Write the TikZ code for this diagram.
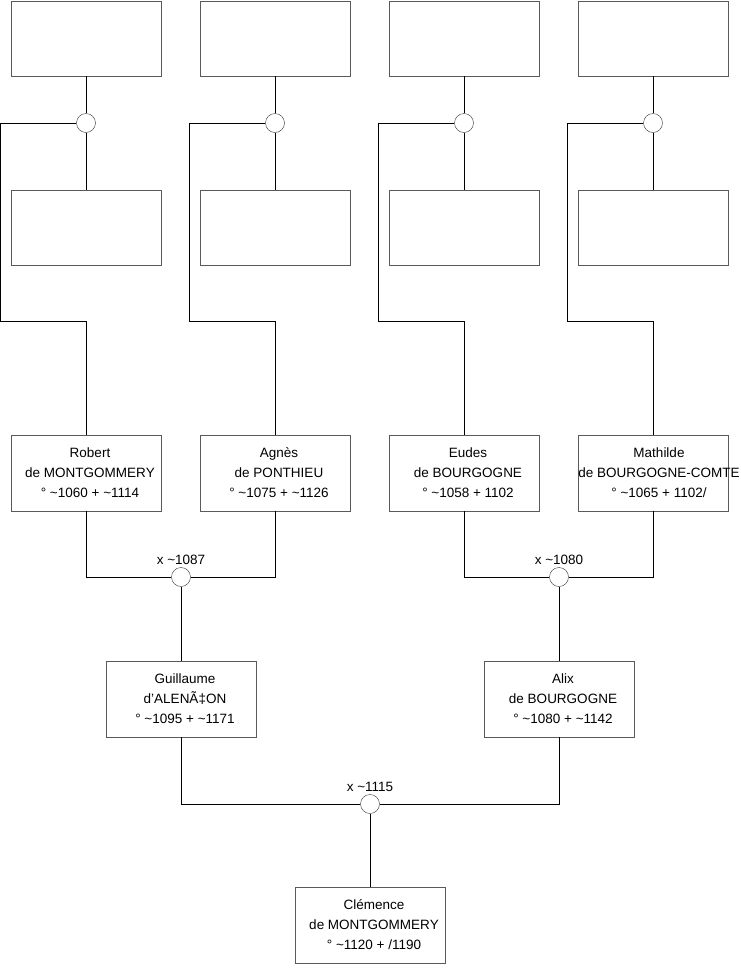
\documentclass[tikz,border=0pt]{standalone}
\usepackage{fontspec}
\setmainfont{Liberation Sans}
\usetikzlibrary{positioning}
\definecolor{boxgray}{HTML}{5A5A5A}
\tikzset{
  person/.style={draw=boxgray,fill=white,minimum width=150pt,minimum height=75.5pt,inner sep=0pt,align=center,font=\fontsize{13.5}{20}\selectfont},
  union/.style={circle,draw=black!80,fill=white,minimum size=19pt,inner sep=0pt},
  link/.style={line width=.8pt},
  datelabel/.style={font=\fontsize{13.5}{15}\selectfont,inner sep=1pt},
}

\begin{document}
\begin{tikzpicture}[x=1pt,y=-1pt]
    \useasboundingbox (0,0) rectangle (740,975);
    % top generation (unknown parents)
    \node[person] (fa1) at (86,38.5) {};
    \node[person] (fa2) at (275,38.5) {};
    \node[person] (fa3) at (464,38.5) {};
    \node[person] (fa4) at (653,38.5) {};
    \node[union] (u1) at (86,123) {};
    \node[union] (u2) at (275,123) {};
    \node[union] (u3) at (464,123) {};
    \node[union] (u4) at (653,123) {};
    \node[person] (mo1) at (86,227.5) {};
    \node[person] (mo2) at (275,227.5) {};
    \node[person] (mo3) at (464,227.5) {};
    \node[person] (mo4) at (653,227.5) {};
    % grand-parents
    \node[person] (rob) at (86,473) {\hspace*{8pt}Robert\\\hspace*{8pt}de MONTGOMMERY\\\hspace*{8pt}° \textasciitilde1060 + \textasciitilde1114};
    \node[person] (agn) at (275,473) {\hspace*{8pt}Agnès\\\hspace*{8pt}de PONTHIEU\\\hspace*{8pt}° \textasciitilde1075 + \textasciitilde1126};
    \node[person] (eud) at (464,473) {\hspace*{8pt}Eudes\\\hspace*{8pt}de BOURGOGNE\\\hspace*{8pt}° \textasciitilde1058 + 1102};
    \node[person] (mat) at (653,473) {};
    \node[align=center,font=\fontsize{13.5}{20}\selectfont,inner sep=0pt] (matt) at (659,473) {Mathilde\\de BOURGOGNE-COMTE\\° \textasciitilde1065 + 1102/};
    % parents
    \node[union] (m1) at (181,577) {};
    \node[datelabel,above=1pt of m1] (d1) {x \textasciitilde1087};
    \node[union] (m2) at (559,577) {};
    \node[datelabel,above=1pt of m2] (d2) {x \textasciitilde1080};
    \node[person] (gui) at (181,699) {\hspace*{8pt}Guillaume\\\hspace*{8pt}d'ALENÃ‡ON\\\hspace*{8pt}° \textasciitilde1095 + \textasciitilde1171};
    \node[person] (ali) at (559,699) {\hspace*{8pt}Alix\\\hspace*{8pt}de BOURGOGNE\\\hspace*{8pt}° \textasciitilde1080 + \textasciitilde1142};
    % child
    \node[union] (m3) at (370,804) {};
    \node[datelabel,above=1pt of m3] (d3) {x \textasciitilde1115};
    \node[person] (cle) at (370,925) {\hspace*{8pt}Clémence\\\hspace*{8pt}de MONTGOMMERY\\\hspace*{8pt}° \textasciitilde1120 + /1190};
    % top links
    \draw[link] (fa1.south) -- (u1.north); \draw[link] (u1.south) -- (mo1.north);
    \draw[link] (fa2.south) -- (u2.north); \draw[link] (u2.south) -- (mo2.north);
    \draw[link] (fa3.south) -- (u3.north); \draw[link] (u3.south) -- (mo3.north);
    \draw[link] (fa4.south) -- (u4.north); \draw[link] (u4.south) -- (mo4.north);
    \draw[link] (u1.west) -| ++(-75.5,198) -| (rob.north);
    \draw[link] (u2.west) -| ++(-75.5,198) -| (agn.north);
    \draw[link] (u3.west) -| ++(-75.5,198) -| (eud.north);
    \draw[link] (u4.west) -| ++(-75.5,198) -| (mat.north);
    % marriages
    \draw[link] (rob.south) |- (m1.west); \draw[link] (agn.south) |- (m1.east);
    \draw[link] (eud.south) |- (m2.west); \draw[link] (mat.south) |- (m2.east);
    \draw[link] (m1.south) -- (gui.north); \draw[link] (m2.south) -- (ali.north);
    \draw[link] (gui.south) |- (m3.west); \draw[link] (ali.south) |- (m3.east);
    \draw[link] (m3.south) -- (cle.north);
  \end{tikzpicture}
\end{document}
